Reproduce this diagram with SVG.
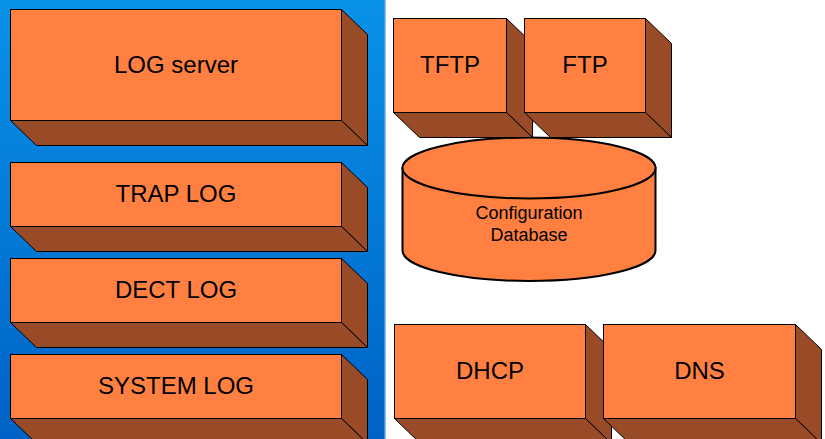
<svg xmlns="http://www.w3.org/2000/svg" width="825" height="439" viewBox="0 0 825 439">
  <defs>
    <linearGradient id="panelGrad" x1="0" y1="0" x2="0" y2="1">
      <stop offset="0" stop-color="#0892e8"/>
      <stop offset="1" stop-color="#0062c6"/>
    </linearGradient>
  </defs>
  <style>
    .front { fill: #ff8040; stroke: #000; stroke-width: 1; }
    .shade { fill: #994a26; stroke: #000; stroke-width: 1; stroke-linejoin: miter; }
    .cyl { fill: #ff8040; stroke: #000; stroke-width: 2; }
    .label { font-family: "Liberation Sans", Arial, sans-serif; font-size: 24px; fill: #000; text-anchor: middle; }
    .small { font-family: "Liberation Sans", Arial, sans-serif; font-size: 18px; fill: #000; text-anchor: middle; }
  </style>

  <rect x="0" y="0" width="825" height="439" fill="#ffffff"/>
  <!-- blue log panel -->
  <rect x="0" y="0" width="385" height="439" fill="url(#panelGrad)"/>
  <rect x="384" y="0" width="2" height="439" fill="#5ea9ea" opacity="0.7"/>

  <!-- log stack -->
  <g id="log-server">
    <polygon class="shade" points="341.5,9.5 367.5,34.5 367.5,145.5 341.5,120.5"/>
    <polygon class="shade" points="10.5,120.5 341.5,120.5 367.5,145.5 36.5,145.5"/>
    <rect class="front" x="10.5" y="9.5" width="331" height="111"/>
    <text class="label" x="176" y="73">LOG server</text>
  </g>
  <g id="trap-log">
    <polygon class="shade" points="341.5,162.5 367.5,187.5 367.5,251.5 341.5,226.5"/>
    <polygon class="shade" points="10.5,226.5 341.5,226.5 367.5,251.5 36.5,251.5"/>
    <rect class="front" x="10.5" y="162.5" width="331" height="64"/>
    <text class="label" x="176" y="202">TRAP LOG</text>
  </g>
  <g id="dect-log">
    <polygon class="shade" points="341.5,258.5 367.5,283.5 367.5,347.5 341.5,322.5"/>
    <polygon class="shade" points="10.5,322.5 341.5,322.5 367.5,347.5 36.5,347.5"/>
    <rect class="front" x="10.5" y="258.5" width="331" height="64"/>
    <text class="label" x="176" y="298">DECT LOG</text>
  </g>
  <g id="system-log">
    <polygon class="shade" points="341.5,354.5 367.5,379.5 367.5,443.5 341.5,418.5"/>
    <polygon class="shade" points="10.5,418.5 341.5,418.5 367.5,443.5 36.5,443.5"/>
    <rect class="front" x="10.5" y="354.5" width="331" height="64"/>
    <text class="label" x="176" y="393.5">SYSTEM LOG</text>
  </g>

  <!-- configuration database -->
  <g id="config-db">
    <path class="cyl" d="M402.5,168 V250.5 A126.5,30.5 0 0 0 655.5,250.5 V168 Z"/>
    <ellipse class="cyl" cx="529" cy="168" rx="126.5" ry="30.5"/>
    <text class="small" x="529" y="218.5">Configuration</text>
    <text class="small" x="529" y="241">Database</text>
  </g>

  <!-- file transfer servers -->
  <g id="tftp">
    <polygon class="shade" points="506.5,18.5 532.5,43.5 532.5,137.5 506.5,112.5"/>
    <polygon class="shade" points="393.5,112.5 506.5,112.5 532.5,137.5 419.5,137.5"/>
    <rect class="front" x="393.5" y="18.5" width="113" height="94"/>
    <text class="label" x="450" y="73">TFTP</text>
  </g>
  <g id="ftp">
    <polygon class="shade" points="645.5,18.5 671.5,43.5 671.5,137.5 645.5,112.5"/>
    <polygon class="shade" points="524.5,112.5 645.5,112.5 671.5,137.5 550.5,137.5"/>
    <rect class="front" x="524.5" y="18.5" width="121" height="94"/>
    <text class="label" x="585" y="73">FTP</text>
  </g>

  <!-- network services -->
  <g id="dhcp">
    <polygon class="shade" points="585.5,324.5 611.5,349.5 611.5,443.5 585.5,418.5"/>
    <polygon class="shade" points="394.5,418.5 585.5,418.5 611.5,443.5 420.5,443.5"/>
    <rect class="front" x="394.5" y="324.5" width="191" height="94"/>
    <text class="label" x="490" y="378.5">DHCP</text>
  </g>
  <g id="dns">
    <polygon class="shade" points="795.5,324.5 821.5,349.5 821.5,443.5 795.5,418.5"/>
    <polygon class="shade" points="603.5,418.5 795.5,418.5 821.5,443.5 629.5,443.5"/>
    <rect class="front" x="603.5" y="324.5" width="192" height="94"/>
    <text class="label" x="699.5" y="378.5">DNS</text>
  </g>

  <g id="connectors"></g>
</svg>
